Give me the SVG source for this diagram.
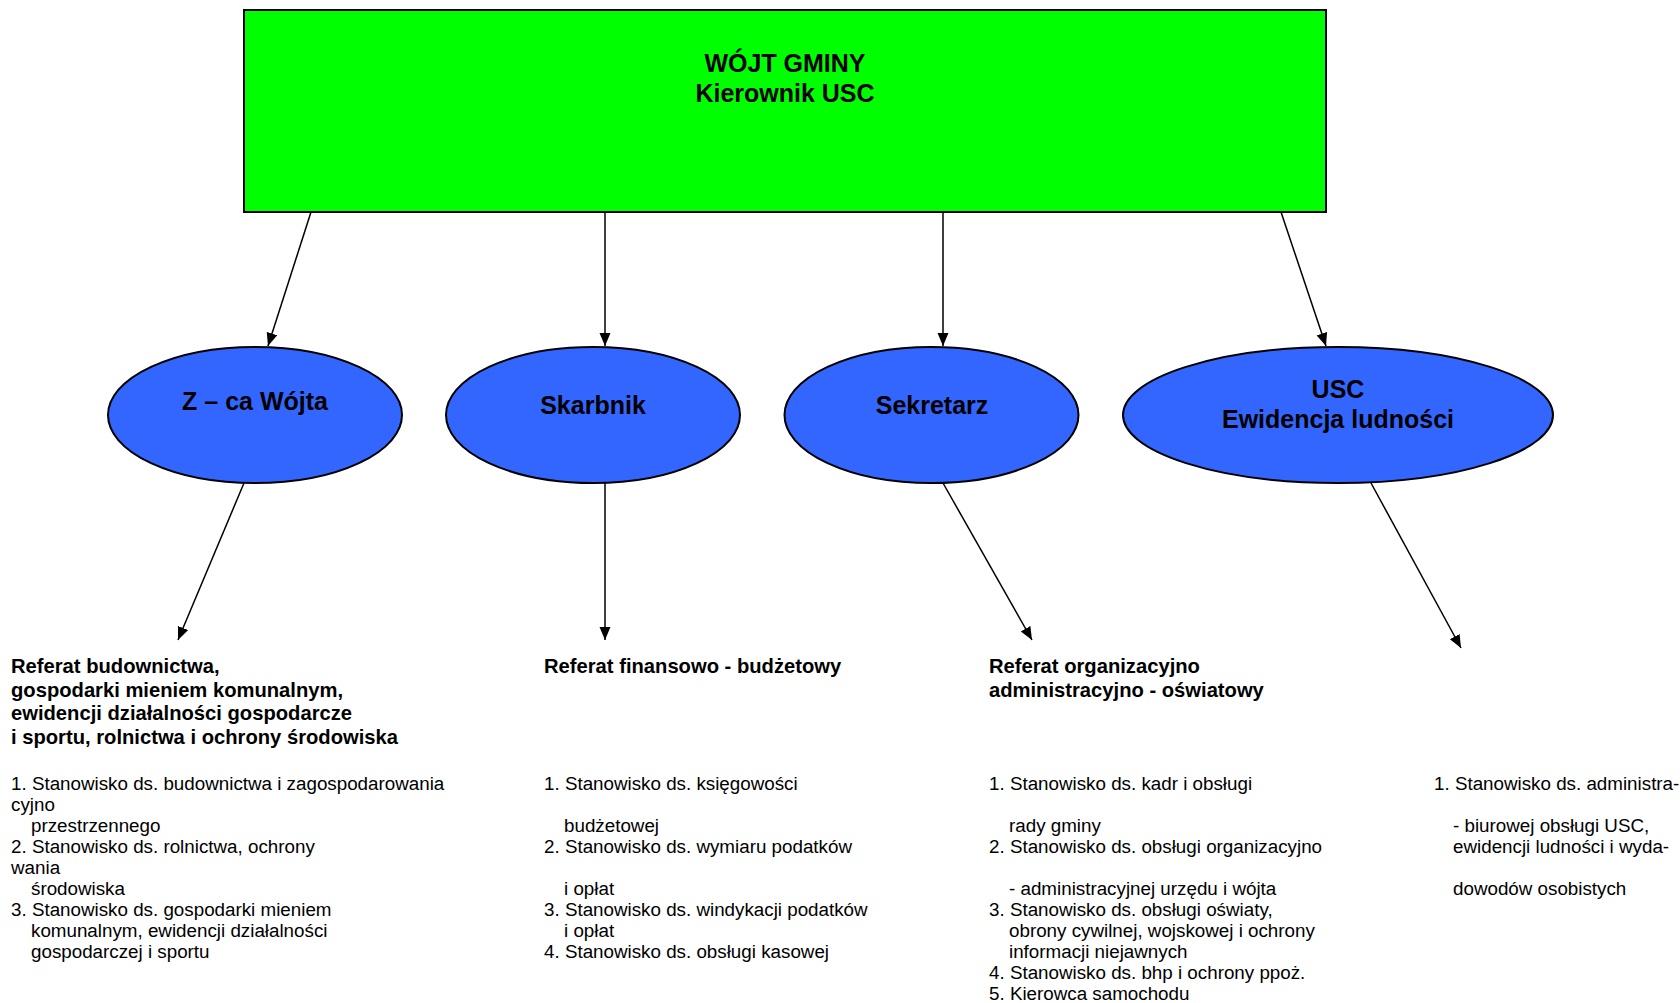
<svg xmlns="http://www.w3.org/2000/svg" width="1680" height="1003" viewBox="0 0 1680 1003">
<style>
  .box { fill: #00FF00; stroke: #000; stroke-width: 2; }
  .ell { fill: #3366FF; stroke: #000; stroke-width: 2; }
  .big { font-family: "Liberation Sans", Arial, sans-serif; font-weight: bold; font-size: 25px; fill: #000; text-anchor: middle; }
  .hd { font-family: "Liberation Sans", Arial, sans-serif; font-weight: bold; font-size: 20.2px; fill: #000; }
  .it { font-family: "Liberation Sans", Arial, sans-serif; font-size: 18.8px; fill: #000; }
  .conn line { stroke: #000; stroke-width: 1.5; fill: none; marker-end: url(#arr); }
</style>
<defs>
  <marker id="arr" markerUnits="userSpaceOnUse" markerWidth="14" markerHeight="12" refX="13" refY="5.5" orient="auto">
    <path d="M0,0 L13,5.5 L0,11 z" fill="#000"/>
  </marker>
</defs>
<rect width="1680" height="1003" fill="#fff"/>

<g id="wojt">
  <rect class="box" x="244" y="10" width="1082" height="202"/>
  <text class="big" x="785" y="72">WÓJT GMINY</text>
  <text class="big" x="785" y="102">Kierownik USC</text>
</g>

<g id="zca">
  <ellipse class="ell" cx="255" cy="415" rx="147" ry="68"/>
  <text class="big" x="255" y="410">Z – ca Wójta</text>
</g>
<g id="skarbnik">
  <ellipse class="ell" cx="593" cy="415" rx="147" ry="68"/>
  <text class="big" x="593" y="414">Skarbnik</text>
</g>
<g id="sekretarz">
  <ellipse class="ell" cx="931.5" cy="415" rx="147" ry="68"/>
  <text class="big" x="932" y="414">Sekretarz</text>
</g>
<g id="usc">
  <ellipse class="ell" cx="1338" cy="415" rx="215" ry="68"/>
  <text class="big" x="1338" y="398">USC</text>
  <text class="big" x="1338" y="428">Ewidencja ludności</text>
</g>

<g class="conn" id="connectors">
  <line x1="311" y1="212" x2="268" y2="346"/>
  <line x1="605" y1="212" x2="605" y2="346"/>
  <line x1="943" y1="212" x2="943" y2="346"/>
  <line x1="1281" y1="212" x2="1326" y2="346"/>
  <line x1="244" y1="483" x2="178" y2="640"/>
  <line x1="605" y1="483" x2="605" y2="640"/>
  <line x1="943" y1="483" x2="1032" y2="640"/>
  <line x1="1371" y1="483" x2="1461" y2="648"/>
</g>

<g id="ref-budownictwa">
  <text class="hd" x="11" y="673">Referat budownictwa,</text>
  <text class="hd" x="11" y="696.5">gospodarki mieniem komunalnym,</text>
  <text class="hd" x="11" y="720">ewidencji działalności gospodarcze</text>
  <text class="hd" x="11" y="743.5">i sportu, rolnictwa i ochrony środowiska</text>
  <text class="it" x="11" y="790">1. Stanowisko ds. budownictwa i zagospodarowania</text>
  <text class="it" x="11" y="811">cyjno</text>
  <text class="it" x="31" y="832">przestrzennego</text>
  <text class="it" x="11" y="853">2. Stanowisko ds. rolnictwa, ochrony</text>
  <text class="it" x="11" y="874">wania</text>
  <text class="it" x="31" y="895">środowiska</text>
  <text class="it" x="11" y="916">3. Stanowisko ds. gospodarki mieniem</text>
  <text class="it" x="31" y="937">komunalnym, ewidencji działalności</text>
  <text class="it" x="31" y="958">gospodarczej i sportu</text>
</g>

<g id="ref-finansowy">
  <text class="hd" x="544" y="673">Referat finansowo - budżetowy</text>
  <text class="it" x="544" y="790">1. Stanowisko ds. księgowości</text>
  <text class="it" x="564" y="832">budżetowej</text>
  <text class="it" x="544" y="853">2. Stanowisko ds. wymiaru podatków</text>
  <text class="it" x="564" y="895">i opłat</text>
  <text class="it" x="544" y="916">3. Stanowisko ds. windykacji podatków</text>
  <text class="it" x="564" y="937">i opłat</text>
  <text class="it" x="544" y="958">4. Stanowisko ds. obsługi kasowej</text>
</g>

<g id="ref-organizacyjny">
  <text class="hd" x="989" y="673">Referat organizacyjno</text>
  <text class="hd" x="989" y="696.5">administracyjno - oświatowy</text>
  <text class="it" x="989" y="790">1. Stanowisko ds. kadr i obsługi</text>
  <text class="it" x="1009" y="832">rady gminy</text>
  <text class="it" x="989" y="853">2. Stanowisko ds. obsługi organizacyjno</text>
  <text class="it" x="1009" y="895">- administracyjnej urzędu i wójta</text>
  <text class="it" x="989" y="916">3. Stanowisko ds. obsługi oświaty,</text>
  <text class="it" x="1009" y="937">obrony cywilnej, wojskowej i ochrony</text>
  <text class="it" x="1009" y="958">informacji niejawnych</text>
  <text class="it" x="989" y="979">4. Stanowisko ds. bhp i ochrony ppoż.</text>
  <text class="it" x="989" y="1000">5. Kierowca samochodu</text>
</g>

<g id="usc-stanowisko">
  <text class="it" x="1434" y="790">1. Stanowisko ds. administra-</text>
  <text class="it" x="1453" y="832">- biurowej obsługi USC,</text>
  <text class="it" x="1453" y="853">ewidencji ludności i wyda-</text>
  <text class="it" x="1453" y="895">dowodów osobistych</text>
</g>
</svg>
